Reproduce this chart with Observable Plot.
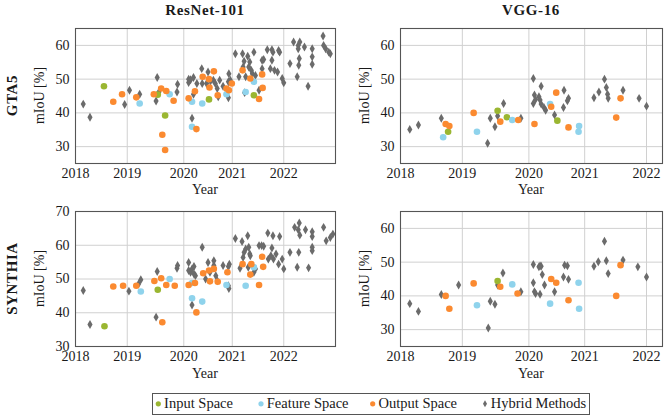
<!DOCTYPE html>
<html><head><meta charset="utf-8">
<script src="https://cdn.jsdelivr.net/npm/d3@7"></script>
<script src="https://cdn.jsdelivr.net/npm/@observablehq/plot@0.6"></script>
<style>
html,body{margin:0;padding:0;background:#fff;}
#wrap{position:relative;width:665px;height:416px;overflow:hidden;font-family:"Liberation Serif",serif;}
#wrap svg{position:absolute;font-family:"Liberation Serif",serif !important;}
#wrap svg text{font-family:"Liberation Serif",serif !important;}
</style></head><body><div id="wrap"></div>
<script>
// ---------- DATA ([year, mIoU %]) ----------
const categories = ["Input Space", "Feature Space", "Output Space", "Hybrid Methods"];
const backbones = ["ResNet-101", "VGG-16"];
const datasets = ["GTA5", "SYNTHIA"];
const yearTicks = [2018, 2019, 2020, 2021, 2022];
const yTicksGTA = [30, 40, 50, 60];
const yTicksSYN = [30, 40, 50, 60, 70];

// GTA5 / ResNet-101
const gtaResInput = [[2018.55,47.9],[2019.54,45.4],[2019.67,39.2],[2020.52,44.0],[2021.42,45.2]];
const gtaResFeature = [[2019.22,42.8],[2019.75,45.5],[2020.17,35.9],[2020.17,43.3],[2020.38,42.8],[2020.88,45.5],[2021.26,46.2],[2021.42,49.2]];
const gtaResOutput = [[2018.73,43.3],[2018.9,45.5],[2019.16,44.6],[2019.47,45.5],[2019.6,47.2],[2019.69,46.5],[2019.62,33.5],[2019.67,29.0],[2019.82,43.6],[2020.1,44.3],[2020.23,46.4],[2020.26,35.2],[2020.39,50.7],[2020.52,50.0],[2020.53,47.5],[2020.62,52.3],[2020.7,45.2],[2020.88,47.2],[2020.93,46.7],[2020.99,48.7],[2021.2,52.6],[2021.35,50.2],[2021.58,51.4],[2021.52,44.1],[2021.59,47.4]];
const gtaResHybrid = [[2018.15,42.6],[2018.28,38.7],[2018.95,42.5],[2019.04,46.7],[2019.22,45.5],[2019.53,50.5],[2019.51,43.5],[2019.56,46.2],[2019.89,48.5],[2019.88,46.2],
[2020.1,50.0],[2020.1,49.0],[2020.14,49.8],[2020.17,38.4],[2020.2,45.5],[2020.2,50.5],[2020.27,48.7],[2020.37,53.1],[2020.38,48.7],[2020.5,52.1],[2020.47,48.7],[2020.55,49.4],[2020.61,49.7],[2020.65,48.7],[2020.69,47.2],[2020.71,44.8],[2020.74,49.7],[2020.81,47.9],[2020.92,49.2],[2020.93,51.6],[2020.92,44.5],[2020.96,49.7],
[2021.06,57.5],[2021.13,50.7],[2021.2,57.5],[2021.21,53.6],[2021.23,55.3],[2021.24,46.0],[2021.26,50.7],[2021.3,56.8],[2021.32,53.6],[2021.34,55.1],[2021.37,52.6],[2021.39,51.6],[2021.42,58.0],[2021.45,51.1],[2021.52,46.7],[2021.58,55.6],[2021.58,53.1],[2021.61,55.8],[2021.68,58.7],[2021.74,53.1],[2021.77,58.7],[2021.77,55.6],[2021.79,58.0],[2021.82,52.6],[2021.88,52.1],[2021.9,58.5],[2021.92,58.0],[2021.97,50.2],[2022.0,48.9],
[2022.12,54.6],[2022.19,61.0],[2022.26,50.7],[2022.28,60.0],[2022.28,59.0],[2022.29,54.1],[2022.3,56.1],[2022.31,61.0],[2022.4,59.5],[2022.47,47.9],[2022.55,59.0],[2022.55,56.6],[2022.55,54.4],[2022.76,62.8],[2022.77,60.0],[2022.81,59.0],[2022.87,58.0],[2022.9,57.5]];

// GTA5 / VGG-16
const gtaVggInput = [[2018.77,34.4],[2019.53,40.6],[2019.67,38.7],[2020.51,37.7]];
const gtaVggFeature = [[2018.69,32.8],[2019.22,34.4],[2019.75,37.9],[2020.38,42.6],[2020.9,36.1],[2020.89,34.4]];
const gtaVggOutput = [[2018.73,36.7],[2018.79,36.1],[2019.17,40.0],[2019.57,37.4],[2019.84,37.9],[2020.1,36.7],[2020.4,41.8],[2020.49,46.0],[2020.71,35.7],[2021.51,38.6],[2021.58,44.3]];
const gtaVggHybrid = [[2018.15,35.1],[2018.29,36.4],[2018.66,38.4],[2019.38,31.0],[2019.42,38.4],[2019.49,35.9],[2019.53,39.1],[2019.62,42.8],[2019.88,38.4],[2020.08,50.2],[2020.08,42.8],[2020.1,45.3],[2020.12,44.0],[2020.18,44.8],[2020.2,43.8],[2020.22,47.9],[2020.22,42.6],[2020.27,41.6],[2020.3,40.8],[2020.46,39.4],[2020.63,46.7],[2020.62,41.6],[2020.69,43.6],[2020.71,44.3],[2021.15,44.5],[2021.23,46.2],[2021.32,50.0],[2021.35,47.5],[2021.37,45.5],[2021.38,44.3],[2021.62,46.7],[2021.88,44.3],[2022.0,42.0]];

// SYNTHIA / ResNet-101
const synResInput = [[2018.56,36.0],[2019.54,46.8]];
const synResFeature = [[2019.24,46.3],[2019.75,50.0],[2020.17,44.3],[2020.17,48.8],[2020.38,43.3],[2020.88,48.2],[2021.26,48.0],[2021.42,53.5]];
const synResOutput = [[2018.73,47.8],[2018.92,48.0],[2019.16,48.0],[2019.48,49.4],[2019.6,50.2],[2019.62,37.2],[2019.69,48.2],[2019.84,48.0],[2020.1,48.2],[2020.23,48.8],[2020.26,40.1],[2020.4,51.7],[2020.52,52.5],[2020.54,49.3],[2020.62,53.0],[2020.7,49.2],[2020.9,52.0],[2021.2,54.4],[2021.35,51.3],[2021.37,54.4],[2021.52,48.2],[2021.58,56.6],[2021.6,53.6]];
const synResHybrid = [[2018.15,46.6],[2018.28,36.5],[2019.03,46.4],[2019.2,48.5],[2019.24,49.8],[2019.51,38.7],[2019.53,52.2],[2019.88,53.2],[2019.89,54.0],[2020.1,54.9],[2020.1,52.5],[2020.14,52.0],[2020.17,42.3],[2020.17,53.0],[2020.21,53.7],[2020.21,51.5],[2020.24,51.0],[2020.38,59.4],[2020.45,50.0],[2020.5,54.9],[2020.54,52.0],[2020.62,55.4],[2020.62,54.0],[2020.66,51.0],[2020.69,49.5],[2020.81,54.0],[2020.92,53.7],[2020.94,54.4],[2020.92,48.0],[2020.93,47.2],
[2021.06,62.0],[2021.15,53.2],[2021.19,61.1],[2021.21,56.4],[2021.23,57.9],[2021.26,58.9],[2021.3,62.8],[2021.31,53.5],[2021.32,59.4],[2021.34,57.4],[2021.35,56.9],[2021.42,52.0],[2021.45,53.0],[2021.52,59.9],[2021.57,59.9],[2021.61,59.7],[2021.69,63.6],[2021.7,55.9],[2021.75,56.9],[2021.77,59.2],[2021.79,62.8],[2021.8,55.9],[2021.85,57.4],[2021.9,54.4],[2021.92,62.6],[2021.97,55.9],[2022.0,53.0],
[2022.12,57.9],[2022.21,65.3],[2022.26,53.5],[2022.28,64.6],[2022.29,57.9],[2022.3,66.6],[2022.31,63.0],[2022.42,64.6],[2022.48,53.3],[2022.55,64.0],[2022.55,62.6],[2022.55,59.4],[2022.55,58.4],[2022.77,65.3],[2022.82,61.3],[2022.9,62.3],[2022.95,63.3]];

// SYNTHIA / VGG-16
const synVggInput = [[2019.53,44.4]];
const synVggFeature = [[2019.22,37.2],[2019.75,43.4],[2020.38,37.7],[2020.89,43.9],[2020.9,36.2]];
const synVggOutput = [[2018.73,40.0],[2018.79,36.2],[2019.17,43.7],[2019.57,42.7],[2019.83,40.7],[2020.4,45.0],[2020.49,43.9],[2020.71,38.7],[2021.51,40.0],[2021.58,49.1]];
const synVggHybrid = [[2018.15,37.7],[2018.29,35.4],[2018.66,40.4],[2018.94,43.2],[2019.39,30.5],[2019.42,38.4],[2019.49,37.5],[2019.53,43.2],[2019.61,46.8],[2019.88,41.2],[2020.08,49.3],[2020.08,43.9],[2020.1,41.2],[2020.12,40.7],[2020.18,48.6],[2020.2,48.9],[2020.22,48.8],[2020.2,40.5],[2020.24,46.3],[2020.28,43.2],[2020.46,41.2],[2020.62,45.6],[2020.64,49.1],[2020.69,48.9],[2020.71,44.9],[2021.15,48.8],[2021.22,50.1],[2021.32,56.2],[2021.35,50.4],[2021.38,46.6],[2021.62,50.6],[2021.86,48.6],[2022.0,45.6]];

// ---------- STYLE ----------
const colors = {"Input Space": "#9ab631", "Feature Space": "#8fd3ec", "Output Space": "#fb8a30", "Hybrid Methods": "#6b6b6b"};
const FONT = "'Liberation Serif', serif";

// piecewise year axis (tick spacing of the original is not uniform)
const xAxisCfg = {
  resnet: {domain: [2018, 2019, 2020, 2021, 2022, 2023], frac: [0, .199, .4165, .603, .801, 1]},
  vgg:    {domain: [2018, 2019, 2020, 2021, 2022, 2022.26], frac: [0, .236, .490, .703, .939, 1]}
};

const panels = [
  {left: 0,   top: 0,   width: 338, mL: 75, mR: 3, bb: "resnet", yDomain: [25, 65], yTicks: yTicksGTA,
   sets: [gtaResHybrid, gtaResInput, gtaResFeature, gtaResOutput]},
  {left: 338, top: 0,   width: 327, mL: 62, mR: 3, bb: "vgg", yDomain: [25, 65], yTicks: yTicksGTA,
   sets: [gtaVggHybrid, gtaVggInput, gtaVggFeature, gtaVggOutput]},
  {left: 0,   top: 183, width: 338, mL: 75, mR: 3, bb: "resnet", yDomain: [30, 70], yTicks: yTicksSYN,
   sets: [synResHybrid, synResInput, synResFeature, synResOutput]},
  {left: 338, top: 183, width: 327, mL: 62, mR: 3, bb: "vgg", yDomain: [25, 65], yTicks: yTicksGTA,
   sets: [synVggHybrid, synVggInput, synVggFeature, synVggOutput]}
];

const wrap = document.getElementById("wrap");
for (const p of panels) {
  const cfg = xAxisCfg[p.bb];
  const x0 = p.mL, x1 = p.width - p.mR;
  const [hyb, inp, feat, out] = p.sets;
  const dotOpts = (c, r) => ({x: d => d[0], y: d => d[1], r, fill: colors[c], stroke: "none"});
  const svg = Plot.plot({
    width: p.width, height: 200,
    marginLeft: p.mL, marginRight: p.mR, marginTop: 28, marginBottom: 37,
    style: {fontFamily: FONT, fontSize: "14px", background: "transparent", color: "#1a1a1a"},
    x: {type: "linear", domain: cfg.domain, range: cfg.frac.map(f => x0 + f * (x1 - x0))},
    y: {domain: p.yDomain},
    marks: [
      Plot.gridX(yearTicks.slice(1), {stroke: "#d0d0d0", strokeOpacity: 1, strokeWidth: 1}),
      Plot.gridY(p.yTicks, {stroke: "#d0d0d0", strokeOpacity: 1, strokeWidth: 1}),
      Plot.dot(hyb, {...dotOpts("Hybrid Methods", 2.7), symbol: "diamond"}),
      Plot.dot(inp, dotOpts("Input Space", 3.3)),
      Plot.dot(feat, dotOpts("Feature Space", 3.3)),
      Plot.dot(out, dotOpts("Output Space", 3.3)),
      Plot.axisX(yearTicks, {tickSize: 0, tickPadding: 5, tickFormat: d => String(d), label: null}),
      Plot.axisY(p.yTicks, {tickSize: 0, tickPadding: 6, label: null}),
      Plot.frame({stroke: "#555", strokeWidth: 1.1})
    ]
  });
  svg.style.left = p.left + "px";
  svg.style.top = p.top + "px";
  svg.style.setProperty("font-family", FONT, "important");
  svg.style.setProperty("font-size", "14px", "important");
  svg.setAttribute("font-family", FONT);
  svg.querySelectorAll("g[aria-label$='tick label']").forEach(g => {
    g.setAttribute("font-family", FONT);
    g.style.setProperty("font-family", FONT, "important");
  });
  wrap.appendChild(svg);
}

// ---------- overlay: titles, axis titles, legend ----------
const ov = d3.select(wrap).append("svg")
  .attr("width", 665).attr("height", 416)
  .style("left", "0px").style("top", "0px")
  .style("font-family", FONT).attr("fill", "#1a1a1a");

const colCenters = [205, 531];
const rowCenters = [95.5, 278.5];
const yLabelX = [44, 369];
const xLabelY = [194, 377.5];

backbones.forEach((b, i) => ov.append("text").text(b)
  .attr("x", colCenters[i]).attr("y", 15).attr("text-anchor", "middle")
  .style("font-size", "15px").style("font-weight", "bold").style("letter-spacing", "0.6px"));
datasets.forEach((d, i) => ov.append("text").text(d)
  .attr("transform", `translate(17,${rowCenters[i]}) rotate(-90)`).attr("text-anchor", "middle")
  .style("font-size", "15px").style("font-weight", "bold").style("letter-spacing", "0.6px"));
rowCenters.forEach((ry, r) => colCenters.forEach((cx, c) => {
  ov.append("text").text("mIoU [%]")
    .attr("transform", `translate(${yLabelX[c]},${ry}) rotate(-90)`).attr("text-anchor", "middle")
    .style("font-size", "14px");
  ov.append("text").text("Year").attr("x", cx).attr("y", xLabelY[r]).attr("text-anchor", "middle")
    .style("font-size", "14px");
}));

// legend
const lg = ov.append("g");
lg.append("rect").attr("x", 152.5).attr("y", 393.5).attr("width", 437).attr("height", 21)
  .attr("fill", "white").attr("stroke", "#555").attr("stroke-width", 1);
const legendPos = [158.3, 261, 372.7, 485];
categories.forEach((c, i) => {
  if (c === "Hybrid Methods") {
    lg.append("path").attr("d", d3.symbol(d3.symbolDiamond, 14)())
      .attr("transform", `translate(${legendPos[i]},403.8)`).attr("fill", colors[c]);
  } else {
    lg.append("circle").attr("cx", legendPos[i]).attr("cy", 403.8).attr("r", 2.6).attr("fill", colors[c]);
  }
  lg.append("text").text(c).attr("x", legendPos[i] + 5.8).attr("y", 408.3).style("font-size", "14.5px");
});
</script></body></html>
